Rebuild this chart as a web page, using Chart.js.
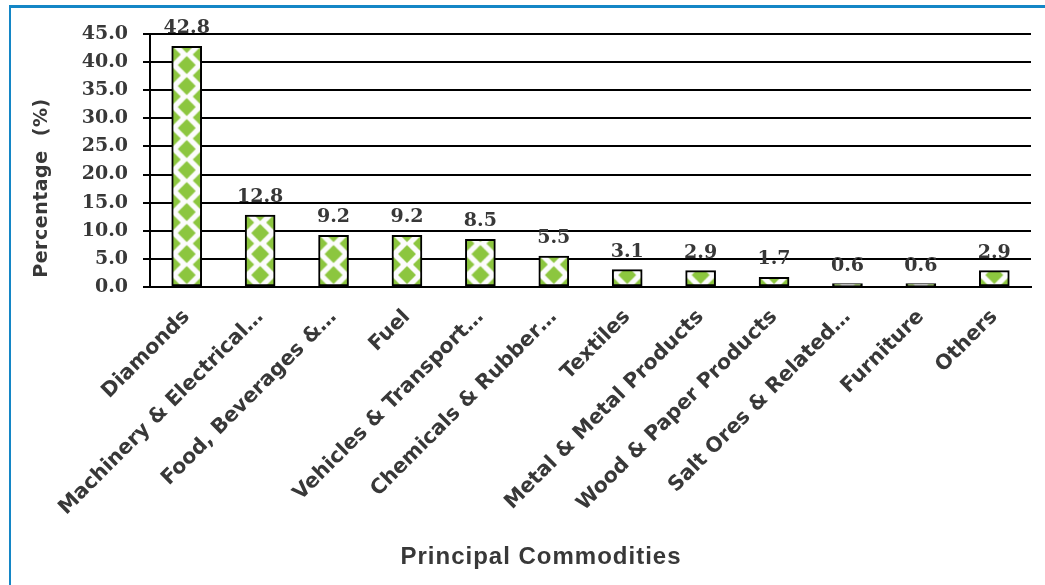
<!DOCTYPE html>
<html>
<head>
<meta charset="utf-8">
<script src="https://cdn.jsdelivr.net/npm/chart.js@4"></script>
<style>
  html, body { margin: 0; padding: 0; background: #fff; }
  #wrap { position: relative; width: 1045px; height: 585px; overflow: hidden; }
  #frame { position: absolute; left: 9px; top: 5px; width: 1100px; height: 700px;
           border-top: 3px solid #1486c6; border-left: 2px solid #1486c6; pointer-events: none; }
</style>
</head>
<body>
<div id="wrap">
  <canvas id="grafico" width="1045" height="585"></canvas>
  <div id="frame"></div>
</div>
<script>
const categorias = ['Diamonds', 'Machinery & Electrical…', 'Food, Beverages &…', 'Fuel',
  'Vehicles & Transport…', 'Chemicals & Rubber…', 'Textiles', 'Metal & Metal Products',
  'Wood & Paper Products', 'Salt Ores & Related…', 'Furniture', 'Others'];
const porcentajes = [42.8, 12.8, 9.2, 9.2, 8.5, 5.5, 3.1, 2.9, 1.7, 0.6, 0.6, 2.9];
const ticksY = [0, 5, 10, 15, 20, 25, 30, 35, 40, 45];
const tituloY = 'Percentage  (%)';
const tituloX = 'Principal Commodities';

const verde = '#8cc63f';
const gris = '#383838';
const anchoBarra = 30;

// tile con rombos verdes (centro + esquinas)
const tile = document.createElement('canvas');
tile.width = 30; tile.height = 21;
(() => {
    const t = tile.getContext('2d');
    t.fillStyle = '#fcfcfc';
    t.fillRect(0, 0, 30, 21);
    t.fillStyle = verde;
    const rombo = (x, y, r) => {
        t.beginPath();
        t.moveTo(x, y - r); t.lineTo(x + r, y); t.lineTo(x, y + r); t.lineTo(x - r, y);
        t.closePath(); t.fill();
    };
    [[15, 10.5], [0, 0], [30, 0], [0, 21], [30, 21]].forEach(([x, y]) => rombo(x, y, 9));
})();

function patronBarra(ctx) {
    const chart = ctx.chart;
    const xs = chart.scales.x, ys = chart.scales.y;
    if (!xs || !ys || ctx.type !== 'data') return verde;
    const cx = xs.getPixelForValue(ctx.dataIndex);
    const y0 = ys.getPixelForValue(0);
    const p = chart.ctx.createPattern(tile, 'repeat');
    p.setTransform(new DOMMatrix([1, 0, 0, 1, cx - anchoBarra / 2, y0 - 22.5]));
    return p;
}

const etiquetas = {
    id: 'etiquetas',
    afterDatasetsDraw(chart) {
        const c = chart.ctx;
        const meta = chart.getDatasetMeta(0);
        c.save();
        c.font = 'bold 19px "DejaVu Serif"';
        c.fillStyle = gris;
        c.textAlign = 'center';
        c.textBaseline = 'alphabetic';
        meta.data.forEach((bar, i) => {
            c.fillText(porcentajes[i].toFixed(1), bar.x, bar.y - 13);
        });

        // titulos de ejes
        c.textBaseline = 'middle';
        c.font = 'bold 24px "Liberation Sans"';
        c.letterSpacing = '1px';
        c.fillText(tituloX, 541, 557);
        c.translate(42, 188);
        c.rotate(-Math.PI / 2);
        c.font = 'bold 19px "DejaVu Sans"';
        c.letterSpacing = '0.5px';
        c.fillText(tituloY, 0, 0);
        c.restore();
    }
};

new Chart(document.getElementById('grafico'), {
    type: 'bar',
    data: {
        labels: categorias,
        datasets: [{
            data: porcentajes,
            backgroundColor: patronBarra,
            borderColor: '#000',
            borderWidth: 2,
            borderSkipped: false,
            barThickness: anchoBarra
        }]
    },
    options: {
        responsive: false,
        animation: false,
        layout: { padding: { left: 0, top: 34, right: 14, bottom: 0 } },
        plugins: { legend: { display: false }, tooltip: { enabled: false } },
        scales: {
            y: {
                min: 0, max: 45,
                afterBuildTicks: s => { s.ticks = ticksY.map(v => ({ value: v })); },
                afterFit: s => { s.width = 150; },
                ticks: {
                    padding: 15,
                    color: gris,
                    font: { family: 'DejaVu Serif', weight: 'bold', size: 19 },
                    callback: v => Number(v).toFixed(1)
                },
                grid: { color: '#000', lineWidth: 2, tickLength: 7 },
                border: { display: true, color: '#000', width: 2 }
            },
            x: {
                afterFit: s => { s.height = 585 - 287; },
                ticks: {
                    minRotation: 45, maxRotation: 45,
                    padding: 10,
                    autoSkip: false,
                    color: gris,
                    font: { family: 'DejaVu Sans', weight: 'bold', size: 20.5 }
                },
                grid: { display: false },
                border: { display: true, color: '#000', width: 2 }
            }
        }
    },
    plugins: [etiquetas]
});
</script>
</body>
</html>
